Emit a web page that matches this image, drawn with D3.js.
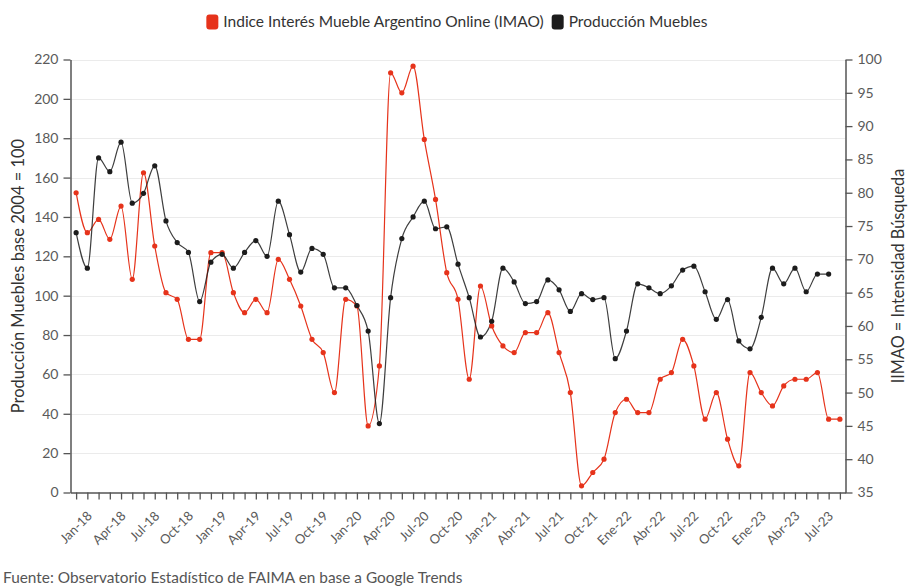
<!DOCTYPE html>
<html>
<head>
<meta charset="utf-8">
<script src="https://cdn.jsdelivr.net/npm/d3@7/dist/d3.min.js"></script>
<style>
  html, body { margin: 0; padding: 0; background: #fff; }
  svg { display: block; font-family: Lato, "Open Sans", sans-serif; }
</style>
</head>
<body>
<svg id="chart" width="908" height="587"></svg>
<script>
// ---- Data ----
const months = [
  "2018-01","2018-02","2018-03","2018-04","2018-05","2018-06","2018-07","2018-08","2018-09","2018-10","2018-11","2018-12",
  "2019-01","2019-02","2019-03","2019-04","2019-05","2019-06","2019-07","2019-08","2019-09","2019-10","2019-11","2019-12",
  "2020-01","2020-02","2020-03","2020-04","2020-05","2020-06","2020-07","2020-08","2020-09","2020-10","2020-11","2020-12",
  "2021-01","2021-02","2021-03","2021-04","2021-05","2021-06","2021-07","2021-08","2021-09","2021-10","2021-11","2021-12",
  "2022-01","2022-02","2022-03","2022-04","2022-05","2022-06","2022-07","2022-08","2022-09","2022-10","2022-11","2022-12",
  "2023-01","2023-02","2023-03","2023-04","2023-05","2023-06","2023-07","2023-08","2023-09"
];
// IMAO (right axis)
const imao = [
  80,74,76,73,78,67,83,72,65,64,58,58,
  71,71,65,62,64,62,70,67,63,58,56,50,
  64,63,45,54,98,95,99,88,79,68,64,52,
  66,60,57,56,59,59,62,56,50,36,38,40,
  47,49,47,47,52,53,58,54,46,50,43,39,
  53,50,48,51,52,52,53,46,46
];
// Producción Muebles (left axis), ends Aug-23
const produccion = [
  132,114,170,163,178,147,152,166,138,127,122,97,
  117,121,114,122,128,120,148,131,112,124,121,104,
  104,95,82,35,99,129,140,148,134,135,116,99,
  79,87,114,107,96,97,108,103,92,101,98,99,
  68,82,106,104,101,105,113,115,102,88,98,77,
  73,89,114,106,114,102,111,111
];
const tickLabels = {
  "2018-01":"Jan-18","2018-04":"Apr-18","2018-07":"Jul-18","2018-10":"Oct-18",
  "2019-01":"Jan-19","2019-04":"Apr-19","2019-07":"Jul-19","2019-10":"Oct-19",
  "2020-01":"Jan-20","2020-04":"Apr-20","2020-07":"Jul-20","2020-10":"Oct-20",
  "2021-01":"Jan-21","2021-04":"Abr-21","2021-07":"Jul-21","2021-10":"Oct-21",
  "2022-01":"Ene-22","2022-04":"Abr-22","2022-07":"Jul-22","2022-10":"Oct-22",
  "2023-01":"Ene-23","2023-04":"Abr-23","2023-07":"Jul-23"
};
const leftTicks = [0,20,40,60,80,100,120,140,160,180,200,220];
const rightTicks = [35,40,45,50,55,60,65,70,75,80,85,90,95,100];
const seriesNames = ["Indice Interés Mueble Argentino Online (IMAO)", "Producción Muebles"];
const colors = ["#e6331b", "#1c1c1c"];

// ---- Layout ----
const svg = d3.select("#chart");
const L = 70.5, R = 845.5, T = 59.5, B = 492.5;
const textColor = "#5a5a5a";

const x = d3.scalePoint().domain(months).range([L, R]).padding(0.5);
const yL = d3.scaleLinear().domain([0, 220]).range([B, T]);
const yR = d3.scaleLinear().domain([35, 100]).range([B, T]);

// gridlines
svg.append("g").selectAll("line").data(leftTicks.filter(d => d > 0)).join("line")
  .attr("x1", L).attr("x2", R)
  .attr("y1", d => Math.round(yL(d)) + 0.5).attr("y2", d => Math.round(yL(d)) + 0.5)
  .attr("stroke", "#ebebeb").attr("stroke-width", 1);

// left axis
const gL = svg.append("g").attr("transform", `translate(${L},0)`)
  .call(d3.axisLeft(yL).tickValues(leftTicks).tickSize(7).tickPadding(5).tickSizeOuter(0));
// right axis
const gR = svg.append("g").attr("transform", `translate(${R},0)`)
  .call(d3.axisRight(yR).tickValues(rightTicks).tickSize(7).tickPadding(5).tickSizeOuter(0));
// bottom axis
const gB = svg.append("g").attr("transform", `translate(0,${B})`)
  .call(d3.axisBottom(x).tickSize(7).tickSizeOuter(0).tickFormat(d => tickLabels[d] || ""));

[gL, gR, gB].forEach(g => {
  g.select(".domain").attr("stroke", "#555").attr("stroke-width", 1.5);
  g.selectAll(".tick line").attr("stroke", "#555").attr("stroke-width", 1.3);
  g.selectAll("text").attr("fill", textColor).style("font-size", "14px")
    .style("font-family", "Lato, 'Open Sans', sans-serif");
});
gB.selectAll("text")
  .attr("text-anchor", "end")
  .attr("dy", "0.35em")
  .attr("transform", "translate(6,14) rotate(-45)")
  .style("font-size", "13px");

// axis titles
svg.append("text")
  .attr("transform", `translate(24,${(T + B) / 2}) rotate(-90)`)
  .attr("text-anchor", "middle").attr("fill", "#333")
  .style("font-size", "16.5px")
  .text("Producción Muebles base 2004 = 100");
svg.append("text")
  .attr("transform", `translate(904,${(T + B) / 2}) rotate(-90)`)
  .attr("text-anchor", "middle").attr("fill", "#333")
  .style("font-size", "16.3px")
  .text("IIMAO = Intensidad Búsqueda");

// lines
const imaoData = imao.map((v, i) => ({ m: months[i], v }));
const prodData = produccion.map((v, i) => ({ m: months[i], v }));

const lineR = d3.line().x(d => x(d.m)).y(d => yR(d.v)).curve(d3.curveMonotoneX);
const lineL = d3.line().x(d => x(d.m)).y(d => yL(d.v)).curve(d3.curveMonotoneX);

svg.append("path").datum(imaoData).attr("d", lineR)
  .attr("fill", "none").attr("stroke", colors[0]).attr("stroke-width", 1.2);
svg.append("path").datum(prodData).attr("d", lineL)
  .attr("fill", "none").attr("stroke", colors[1]).attr("stroke-width", 1.2).attr("stroke-opacity", 0.85);

svg.append("g").selectAll("circle").data(imaoData).join("circle")
  .attr("cx", d => x(d.m)).attr("cy", d => yR(d.v)).attr("r", 2.6).attr("fill", colors[0]);
svg.append("g").selectAll("circle").data(prodData).join("circle")
  .attr("cx", d => x(d.m)).attr("cy", d => yL(d.v)).attr("r", 2.6).attr("fill", colors[1]);

// legend
const legend = svg.append("g");
const items = legend.selectAll("g").data(seriesNames).join("g");
items.append("rect").attr("width", 12).attr("height", 15).attr("rx", 3).attr("ry", 3)
  .attr("y", -7.5).attr("fill", (d, i) => colors[i]);
items.append("text").attr("x", 17).attr("dy", "0.35em").attr("fill", "#333")
  .style("font-size", "15.5px").text(d => d);
let cx = 0;
const widths = [];
items.each(function () { widths.push(this.getBBox().width); });
items.attr("transform", (d, i) => { const t = `translate(${cx},0)`; cx += widths[i] + 8; return t; });
const totalW = cx - 8;
legend.attr("transform", `translate(${(908 - totalW) / 2 + 3},22)`);

// source
svg.append("text").attr("x", 3).attr("y", 583).attr("fill", "#555")
  .style("font-size", "15.4px")
  .text("Fuente: Observatorio Estadístico de FAIMA en base a Google Trends");
</script>
</body>
</html>
